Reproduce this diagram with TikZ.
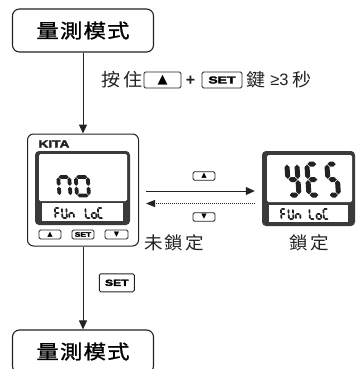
\documentclass[tikz,border=0pt]{standalone}
\usepackage{fontspec}
\usepackage{graphicx}
\setmainfont{Liberation Sans}
\newfontfamily\cjk{Noto Sans CJK TC}
\newfontfamily\cjkm[FakeBold=1]{Noto Sans CJK TC}
\newfontfamily\logofont[BoldFeatures={FakeBold=2.5}]{Liberation Sans}
\newfontfamily\sym{DejaVu Sans}
\usetikzlibrary{arrows.meta}

\definecolor{ink}{HTML}{222222}
\definecolor{lcdframe}{HTML}{3A3A3A}

% text helpers
\newcommand\cjtext[2]{\scalebox{1.06}[1]{\cjk\fontsize{#1}{#1}\selectfont #2}}
\newcommand\setword[2]{\scalebox{#2}[1]{\logofont\fontsize{#1}{#1}\selectfont\bfseries SET}}
\newcommand\trig[2]{{\sym\fontsize{#1}{#1}\selectfont #2}}

% seven-segment glyphs: hexagonal bars
\newcommand\hsegbar[3]{\fill[ink] ({#1},{#3}) -- ({#1+\st},{#3+\st}) -- ({#2-\st},{#3+\st}) -- ({#2},{#3}) -- ({#2-\st},{#3-\st}) -- ({#1+\st},{#3-\st}) -- cycle;}
\newcommand\vsegbar[3]{\fill[ink] ({#1},{#2}) -- ({#1+\st},{#2+\st}) -- ({#1+\st},{#3-\st}) -- ({#1},{#3}) -- ({#1-\st},{#3-\st}) -- ({#1-\st},{#2+\st}) -- cycle;}
\newcommand\Sega{\hsegbar{\sgp}{\sw-\sgp}{\sh}}
\newcommand\Segd{\hsegbar{\sgp}{\sw-\sgp}{0}}
\newcommand\Segg{\hsegbar{\sgp}{\sw-\sgp}{\sh/2}}
\newcommand\Segb{\vsegbar{\sw}{\sh/2+\sgp}{\sh-\sgp}}
\newcommand\Segc{\vsegbar{\sw}{\sgp}{\sh/2-\sgp}}
\newcommand\Sege{\vsegbar{0}{\sgp}{\sh/2-\sgp}}
\newcommand\Segf{\vsegbar{0}{\sh/2+\sgp}{\sh-\sgp}}
% #1,#2 bottom-left, #3 width, #4 height, #5 bar thickness, #6 segments
\newcommand\segchar[6]{%
  \begin{scope}[shift={(#1,#2)},yscale=-1,xslant=0.07]
    \def\sw{#3}\def\sh{#4}%
    \pgfmathsetmacro\st{#5/2}\pgfmathsetmacro\sgp{#5*0.12}%
    \foreach \q in {#6}{\csname Seg\q\endcsname}
  \end{scope}}

\tikzset{
  modebox/.style={draw=ink, line width=1.1pt, rounded corners=7pt,
    minimum width=141pt, minimum height=43pt, inner sep=0pt},
  keybox/.style={draw=ink, line width=0.9pt, rounded corners=1.5pt, inner sep=0pt},
  unitbox/.style={draw=ink, line width=1pt, rounded corners=6pt, inner sep=0pt},
  lcdbox/.style={fill=lcdframe, rounded corners=4pt, inner sep=0pt},
  screen/.style={fill=white, rounded corners=1.5pt, inner sep=0pt},
  strip/.style={fill=white, inner sep=0pt},
  label/.style={inner sep=0pt, text=ink},
  flow/.style={draw=ink, line width=1pt, -{Triangle[length=9pt,width=8pt]}},
  backflow/.style={draw=ink, line width=0.8pt, dash pattern=on 1pt off 1pt,
    -{Triangle[length=9pt,width=7pt]}},
}

\begin{document}
\begin{tikzpicture}[x=1pt,y=-1pt]
\useasboundingbox (0,0) rectangle (356,369);
\clip (0,0) rectangle (356,369);

% mode boxes
\node[modebox] (mode1) at (83,30.5)
  {\scalebox{1.15}[1]{\cjkm\fontsize{19.5}{19.5}\selectfont 量\kern1pt 測\kern1pt 模\kern1pt 式}};
\node[modebox] (mode2) at (83,351.5)
  {\scalebox{1.15}[1]{\cjkm\fontsize{19.5}{19.5}\selectfont 量\kern1pt 測\kern1pt 模\kern1pt 式}};

% key combination label
\node[label] (hold) at (122,80) {\cjtext{18}{按\kern2.5pt 住}};
\node[keybox, minimum width=37pt, minimum height=16pt] (kup) at (162.5,80) {\trig{13}{▲}};
\node[label] (plus) at (190.5,80.5) {\fontsize{16}{16}\selectfont\bfseries +};
\node[keybox, minimum width=40pt, minimum height=16pt] (kset) at (222,80) {\setword{10}{1.4}};
\node[label] (key) at (256.5,80) {\cjtext{18}{鍵}};
\node[label] (sec3) at (279.5,80) {\fontsize{16.5}{16.5}\selectfont ≥3};
\node[label] (secs) at (302.5,80) {\cjtext{18}{秒}};

% left unit
\node[unitbox, minimum width=111pt, minimum height=112pt] (dev1) at (83,190) {};
\node[label] (brand) at (54,144) {\scalebox{1.3}[1]{\logofont\fontsize{10.5}{10.5}\selectfont\bfseries KITA}};
\node[lcdbox, minimum width=95pt, minimum height=74pt] (frame1) at (82.5,188) {};
\node[screen, minimum width=88pt, minimum height=47pt] (lcd1) at (83,177.5) {};
\node[strip, minimum width=81pt, minimum height=18pt] (strip1) at (82.5,212) {};
\node[keybox, minimum width=22pt, minimum height=9pt] (b1up) at (50,234.5) {\trig{7}{▲}};
\node[keybox, minimum width=22pt, minimum height=9pt] (b1set) at (83,234.5) {\setword{6.5}{1.3}};
\node[keybox, minimum width=23pt, minimum height=9pt] (b1dn) at (116.5,234.5) {\trig{7}{▼}};

% left unit readout
\segchar{59.5}{195.5}{11}{18.5}{3.8}{a,b,c,e,f}
\segchar{77}{195.5}{12}{18.5}{3.8}{a,b,c,d,e,f}
\segchar{55.5}{218}{4.5}{10}{1.8}{a,e,f,g}
\segchar{62.5}{218}{4.5}{10}{1.8}{b,c,d,e,f}
\segchar{69.5}{218}{4.5}{10}{1.8}{c,e,g}
\segchar{86}{218}{4.5}{10}{1.8}{d,e,f}
\segchar{92}{218}{4.5}{10}{1.8}{c,d,e,g}
\segchar{98.5}{218}{4.5}{10}{1.8}{a,d,e,f}

% right unit
\node[lcdbox, minimum width=93pt, minimum height=75pt] (frame2) at (308.5,188.5) {};
\node[screen, minimum width=85pt, minimum height=47pt] (lcd2) at (309.5,178.5) {};
\node[strip, minimum width=79pt, minimum height=17pt] (strip2) at (308.5,213.5) {};

% right unit readout
\segchar{289}{195}{10}{31}{5}{b,c,d,f,g}
\segchar{309}{195}{10}{31}{5}{a,d,e,f,g}
\segchar{329}{195}{9.5}{31}{5}{a,c,d,f,g}
\segchar{281.5}{219}{4.5}{10}{1.8}{a,e,f,g}
\segchar{289}{219}{4.5}{10}{1.8}{b,c,d,e,f}
\segchar{296}{219}{4.5}{10}{1.8}{c,e,g}
\segchar{310}{219}{4.5}{10}{1.8}{d,e,f}
\segchar{316.8}{219}{4.5}{10}{1.8}{c,d,e,g}
\segchar{324}{219}{4.5}{10}{1.8}{a,d,e,f}

% transitions
\coordinate (yA) at (0,191);
\coordinate (yB) at (0,203.5);
\draw[flow] (mode1.south) -- (dev1.north);
\draw[flow] (dev1.south) -- (mode2.north);
\draw[flow, shorten <=7pt, shorten >=7pt] (dev1.east |- yA) -- (frame2.west |- yA);
\draw[backflow, shorten <=7pt, shorten >=7pt] (frame2.west |- yB) -- (dev1.east |- yB);

\node[keybox, minimum width=22pt, minimum height=8.5pt] (aup) at (204,176) {\trig{7}{▲}};
\node[keybox, minimum width=22pt, minimum height=8.5pt] (adn) at (204,217) {\trig{7}{▼}};
\node[keybox, minimum width=35pt, minimum height=18pt] (dset) at (116.8,282.8) {\setword{9}{1.35}};

\node[label] (unlocked) at (174,243) {\cjtext{17.5}{未\kern2pt 鎖\kern2pt 定}};
\node[label] (locked) at (309,243) {\cjtext{17.5}{鎖\kern2pt 定}};
\end{tikzpicture}
\end{document}
